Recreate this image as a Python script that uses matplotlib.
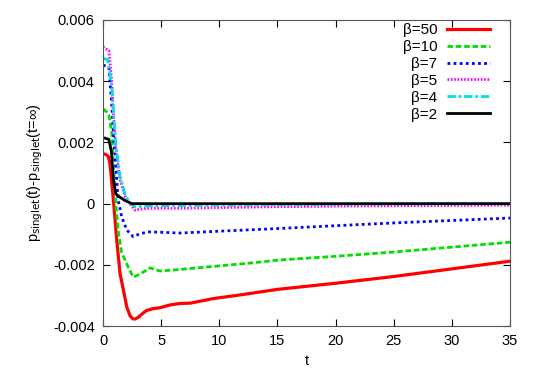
import matplotlib
matplotlib.use("Agg")
import matplotlib.pyplot as plt

plt.rcParams['font.family'] = ['Liberation Sans', 'DejaVu Sans']
plt.rcParams['font.size'] = 10.5

# beta = 50
t_50 = [0, 0.17, 0.45, 0.6, 0.89, 1.18, 1.46, 1.75, 2.04, 2.32, 2.55, 2.75, 3.0, 3.3, 3.75, 4.3, 4.9, 5.76, 6.6, 7.5,
        9.5, 12, 15, 20, 25, 30, 35]
p_50 = [0.00162, 0.00162, 0.00155, 0.0013, 0.00012, -0.00119, -0.00228, -0.00282, -0.00337, -0.00366, -0.00376,
        -0.00377, -0.00372, -0.00362, -0.00349, -0.00343, -0.0034, -0.00331, -0.00326, -0.00325, -0.0031, -0.00297,
        -0.0028, -0.0026, -0.00238, -0.00213, -0.00188]
# beta = 10
t_10 = [0, 0.3, 0.5, 0.75, 0.9, 1.1, 1.3, 1.6, 2.2, 2.6, 3.18, 4.04, 4.9, 6.6, 9.5, 12.4, 15.2, 20, 25, 30, 35]
p_10 = [0.0031, 0.003, 0.0029, 0.0023, 0.0012, 0.0, -0.00087, -0.0016, -0.0021, -0.0024, -0.0023, -0.0021, -0.0022,
        -0.00215, -0.00205, -0.00195, -0.00184, -0.00172, -0.00158, -0.00142, -0.00126]
# beta = 7
t_7 = [0, 0.5, 0.72, 0.89, 1.1, 1.3, 1.6, 2.04, 2.6, 3.18, 4.04, 6.6, 10, 15.2, 20, 25, 30, 35]
p_7 = [0.00453, 0.00445, 0.0034, 0.0023, 0.0012, 0.00012, -0.00042, -0.00086, -0.00108, -0.00098, -0.00092, -0.00096,
       -0.0009, -0.00081, -0.00072, -0.00063, -0.00055, -0.00047]
# beta = 5
t_5 = [0, 0.5, 0.75, 0.9, 1.1, 1.46, 1.9, 2.3, 2.75, 3.75, 6.6, 10, 15, 20, 35]
p_5 = [0.00512, 0.005, 0.004, 0.0029, 0.0018, 0.00078, 0.00024, 0.0, -0.00021, -0.00015, -0.00015, -0.00013, -0.0001,
       -0.00008, -0.00005]
# beta = 4
t_4 = [0, 0.4, 0.75, 0.9, 1.1, 1.46, 1.9, 2.3, 2.75, 4, 10, 20, 35]
p_4 = [0.00475, 0.0047, 0.0038, 0.003, 0.0019, 0.0009, 0.0003, 0.00001, -0.0001, -0.00007, -0.00005, -0.00002, 0.0]
# beta = 2
t_2 = [0, 0.5, 0.72, 0.89, 1.1, 1.46, 1.9, 2.5, 3.5, 10, 35]
p_2 = [0.00216, 0.0021, 0.0017, 0.0008, 0.00032, 0.00021, 0.0001, 0.0, 0.0, 0.0, 0.0]

fig = plt.figure(figsize=(5.38, 3.77), dpi=100)
ax = fig.add_axes([0.1915, 0.135, 0.7565, 0.812])

ax.plot(t_50, p_50, color='#ff0000', lw=2.3, label='β=50')
ax.plot(t_10, p_10, color='#00e000', lw=2, dashes=(2, 1), label='β=10')
ax.plot(t_7, p_7, color='#0000ff', lw=2, dashes=(1, 1.2), label='β=7')
ax.plot(t_5, p_5, color='#ff00ff', lw=2, dashes=(0.6, 0.6), label='β=5')
ax.plot(t_4, p_4, color='#00e0e0', lw=2, dashes=(3, 1, 1, 1), label='β=4')
ax.plot(t_2, p_2, color='#000000', lw=2, label='β=2')

ax.set_xlim(0, 35)
ax.set_ylim(-0.004, 0.006)
ax.set_xticks([0, 5, 10, 15, 20, 25, 30, 35])
ax.set_yticks([-0.004, -0.002, 0, 0.002, 0.004, 0.006])
ax.set_yticklabels(['-0.004', '-0.002', '0', '0.002', '0.004', '0.006'])
ax.tick_params(direction='in', top=True, right=True, length=5, pad=6)
for s in ax.spines.values():
    s.set_color('#555555')

ax.set_xlabel('t', labelpad=4)
ax.set_ylabel(r'p$_{\mathrm{singlet}}$(t)-p$_{\mathrm{singlet}}$(t=∞)', labelpad=6)

ax.legend(loc='upper right', bbox_to_anchor=(0.951, 0.99), frameon=False, markerfirst=False,
          handlelength=2.8, labelspacing=0.19, borderaxespad=0, borderpad=0, handletextpad=0.65, fontsize=11)

fig.savefig('out.png', dpi=100)
